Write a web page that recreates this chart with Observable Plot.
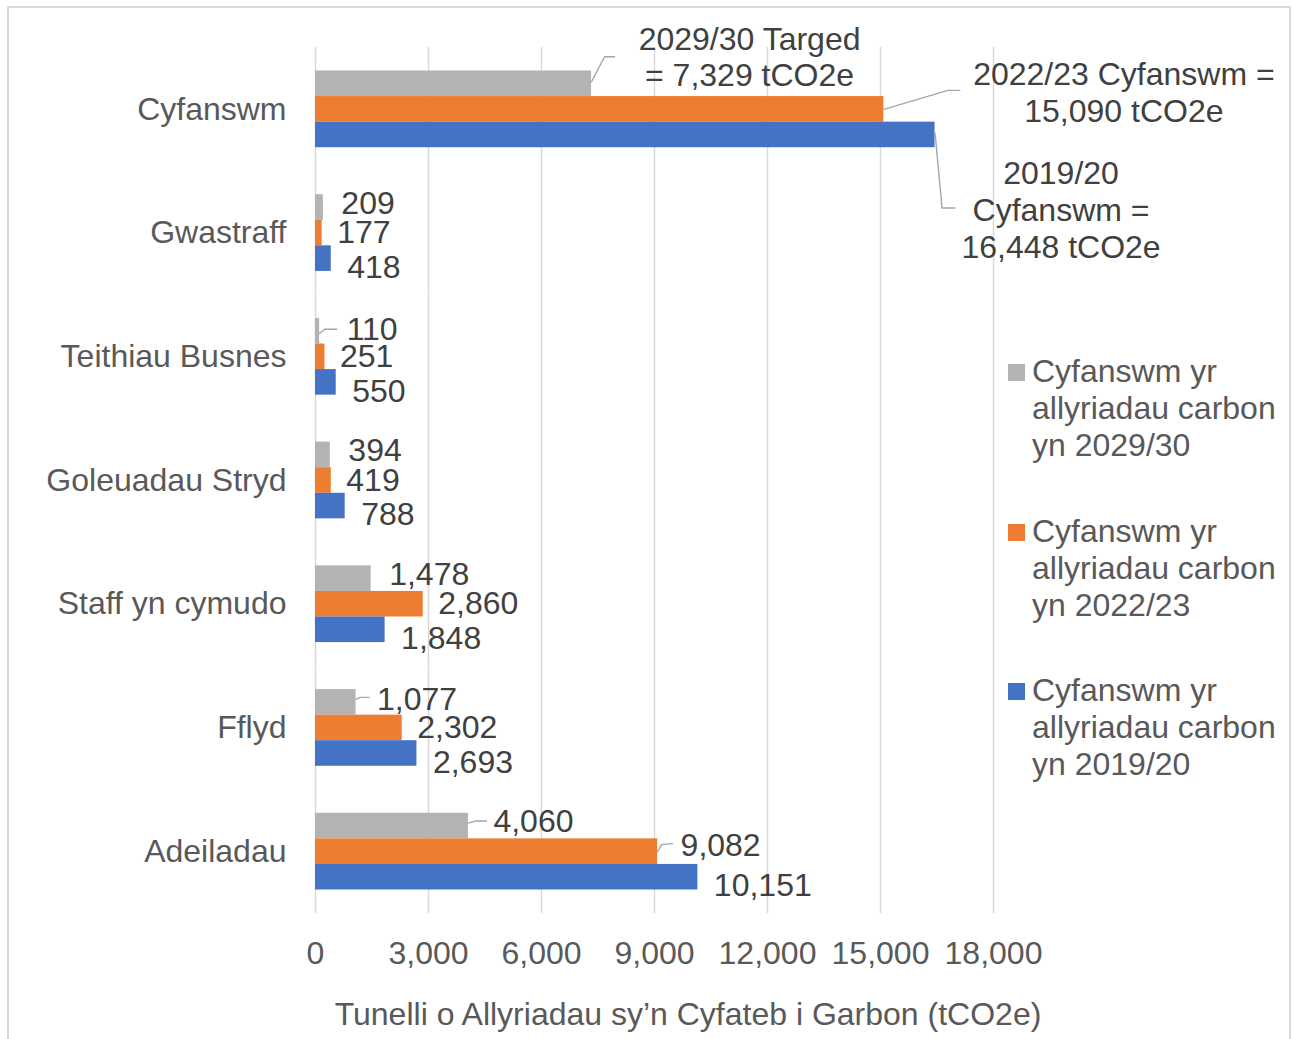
<!DOCTYPE html>
<html>
<head>
<meta charset="utf-8">
<script src="https://cdn.jsdelivr.net/npm/d3@7"></script>
<script src="https://cdn.jsdelivr.net/npm/@observablehq/plot@0.6"></script>
<style>
  html, body { margin: 0; padding: 0; background: #fff; }
  #wrap { position: relative; width: 1292px; height: 1039px; overflow: hidden; font-family: "Liberation Sans", Arial, sans-serif; color: #595959; }
  #border { position: absolute; left: 7px; top: 6px; width: 1284px; height: 1060px; border: 2px solid #d9d9d9; box-sizing: border-box; }
  #chart { position: absolute; left: 0; top: 0; }
  #xlabel { position: absolute; left: 688px; top: 996px; transform: translateX(-50%); font-size: 32px; line-height: 37px; white-space: nowrap; }
  #legend { position: absolute; left: 1008px; top: 0; }
  .item { position: absolute; left: 0; width: 282px; font-size: 32px; line-height: 37px; }
  .sw { position: absolute; left: 0; top: 11px; width: 17px; height: 17px; }
  .lt { position: absolute; left: 24px; top: 0; white-space: nowrap; }
</style>
</head>
<body>
<div id="wrap">
  <div id="border"></div>
  <div id="chart"></div>
  <div id="xlabel"></div>
  <div id="legend"></div>
</div>
<script>
// ---- data ----
const categories = ["Cyfanswm", "Gwastraff", "Teithiau Busnes", "Goleuadau Stryd", "Staff yn cymudo", "Fflyd", "Adeiladau"];
const seriesKeys = ["2029/30", "2022/23", "2019/20"];
const values2029 = [7329, 209, 110, 394, 1478, 1077, 4060];
const values2022 = [15090, 177, 251, 419, 2860, 2302, 9082];
const values2019 = [16448, 418, 550, 788, 1848, 2693, 10151];
const seriesColors = ["#b3b3b3", "#ed7d31", "#4472c4"];
const xTicks = [0, 3000, 6000, 9000, 12000, 15000, 18000];
const legendLines = [
  ["Cyfanswm yr", "allyriadau carbon", "yn 2029/30"],
  ["Cyfanswm yr", "allyriadau carbon", "yn 2022/23"],
  ["Cyfanswm yr", "allyriadau carbon", "yn 2019/20"]
];
const xTitle = "Tunelli o Allyriadau sy’n Cyfateb i Garbon (tCO2e)";
const totalCategory = "Cyfanswm";

// ---- table ----
const seriesValues = [values2029, values2022, values2019];
const rows = categories.flatMap((c, i) =>
  seriesKeys.map((s, j) => ({category: c, series: s, value: seriesValues[j][i]}))
);
const fmt = d3.format(",");
const isTotal = d => d.category === totalCategory;
const totalOf = (s) => rows.filter(d => d.series === s && isTotal(d));
const pick = (cat, s) => rows.filter(d => d.category === cat && d.series === s);
// labels that have a small leader line (moved labels)
const leadered = [["Teithiau Busnes", "2029/30"], ["Fflyd", "2029/30"], ["Adeiladau", "2029/30"], ["Adeiladau", "2022/23"]];
const isLeadered = d => leadered.some(([c, s]) => c === d.category && s === d.series);
const plain = (s) => rows.filter(d => d.series === s && !isTotal(d) && !isLeadered(d));

const labelFill = "#404040";
const leaderStroke = "#a6a6a6";

function label(data, dx, dy) {
  return Plot.text(data, {x: "value", y: "series", fy: "category", text: d => fmt(d.value), textAnchor: "start", dx, dy, fill: labelFill});
}

function leader(data, pts) {
  return Plot.vector(data, {
    x: "value", y: "series", fy: "category",
    length: 1, rotate: 0, anchor: "start",
    stroke: leaderStroke, strokeWidth: 1.4, fill: "none",
    shape: {
      draw(ctx) {
        ctx.moveTo(pts[0][0], pts[0][1]);
        for (let k = 1; k < pts.length; k++) ctx.lineTo(pts[k][0], pts[k][1]);
      }
    }
  });
}

const chart = Plot.plot({
  width: 1292,
  height: 1039,
  marginLeft: 315,
  marginRight: 299,
  marginTop: 47,
  marginBottom: 126,
  style: {fontSize: "32px", fontFamily: "'Liberation Sans', Arial, sans-serif", color: "#595959", background: "transparent", overflow: "visible"},
  x: {domain: [0, 18000], ticks: xTicks, tickFormat: fmt, tickSize: 0, tickPadding: 28, label: null},
  y: {domain: seriesKeys, paddingInner: 0, paddingOuter: 0.919, round: false, axis: null},
  fy: {domain: categories, padding: 0, round: false, tickSize: 0, tickPadding: 29, label: null},
  color: {domain: seriesKeys, range: seriesColors},
  marks: [
    Plot.ruleX(xTicks, {stroke: "#d9d9d9", strokeWidth: 1.5}),
    Plot.barX(rows, {x: "value", y: "series", fy: "category", fill: "series"}),
    // numeric data labels
    label(plain("2029/30"), 18, -4),
    label(plain("2022/23"), 15, 0),
    label(plain("2019/20"), 16, 9),
    label(pick("Teithiau Busnes", "2029/30"), 27, -1),
    label(pick("Fflyd", "2029/30"), 21, -3),
    label(pick("Adeiladau", "2029/30"), 25, -4),
    label(pick("Adeiladau", "2022/23"), 23, -6),
    // total annotations
    Plot.text(totalOf("2029/30"), {x: "value", y: "series", fy: "category", text: d => `${d.series} Targed\n= ${fmt(d.value)} tCO2e`, textAnchor: "middle", lineAnchor: "middle", lineHeight: 36 / 32, dx: 158, dy: -27, fill: labelFill}),
    Plot.text(totalOf("2022/23"), {x: "value", y: "series", fy: "category", text: d => `${d.series} Cyfanswm =\n${fmt(d.value)} tCO2e`, textAnchor: "middle", lineAnchor: "middle", lineHeight: 37 / 32, dx: 240, dy: -18, fill: labelFill}),
    Plot.text(totalOf("2019/20"), {x: "value", y: "series", fy: "category", text: d => `${d.series}\nCyfanswm =\n${fmt(d.value)} tCO2e`, textAnchor: "middle", lineAnchor: "middle", lineHeight: 37 / 32, dx: 126, dy: 74, fill: labelFill}),
    // leader lines
    leader(totalOf("2029/30"), [[0, -2], [13, -27], [23, -27]]),
    leader(totalOf("2022/23"), [[0, 0], [64, -19], [76, -19]]),
    leader(totalOf("2019/20"), [[0, -2], [7, 73], [20, 73]]),
    leader(pick("Teithiau Busnes", "2029/30"), [[0, 2], [5, -2], [17, -2]]),
    leader(pick("Fflyd", "2029/30"), [[0, -3], [4, -5], [13, -5]]),
    leader(pick("Adeiladau", "2029/30"), [[0, -3], [7, -5], [18, -5]]),
    leader(pick("Adeiladau", "2022/23"), [[0, 0], [4, -7], [15, -8]])
  ]
});
document.getElementById("chart").appendChild(chart);

document.getElementById("xlabel").textContent = xTitle;

const legend = document.getElementById("legend");
const legendTops = [353, 513, 672];
legendLines.forEach((lines, i) => {
  const item = document.createElement("div");
  item.className = "item";
  item.style.top = legendTops[i] + "px";
  const sw = document.createElement("div");
  sw.className = "sw";
  sw.style.background = seriesColors[i];
  const lt = document.createElement("div");
  lt.className = "lt";
  lt.innerHTML = lines.join("<br>");
  item.appendChild(sw);
  item.appendChild(lt);
  legend.appendChild(item);
});
</script>
</body>
</html>
